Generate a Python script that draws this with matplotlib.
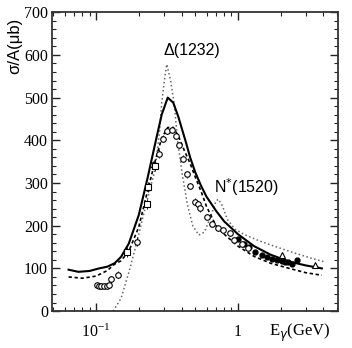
import matplotlib
matplotlib.use('Agg')
import matplotlib.pyplot as plt
from matplotlib.ticker import FixedLocator, FixedFormatter, MultipleLocator, LogLocator, NullFormatter

# curves (E in GeV, sigma/A in microbarn)
solid_E = [0.064, 0.075, 0.09, 0.105, 0.12, 0.135, 0.15, 0.17, 0.2, 0.23, 0.26, 0.29, 0.32,
           0.35, 0.38, 0.4, 0.43, 0.46, 0.5, 0.55, 0.6, 0.7, 0.8, 1.0, 1.3, 1.7, 2.3, 3.0, 3.9]
solid_S = [97, 92, 94, 100, 104, 112, 127, 158, 225, 310, 390, 460, 500,
           488, 455, 430, 395, 360, 325, 293, 268, 235, 210, 180, 152, 132, 116, 107, 100]

dash_E = [0.064, 0.08, 0.1, 0.12, 0.135, 0.15, 0.17, 0.2, 0.23, 0.26, 0.29, 0.32, 0.35,
          0.38, 0.42, 0.46, 0.5, 0.55, 0.6, 0.7, 0.8, 1.0, 1.3, 1.7, 2.3, 3.0, 3.9]
dash_S = [80, 77, 82, 95, 110, 118, 140, 197, 280, 350, 405, 430, 430,
          410, 375, 346, 314, 280, 245, 200, 180, 152, 128, 112, 100, 90, 84]

dot_E = [0.132, 0.15, 0.17, 0.194, 0.225, 0.26, 0.28, 0.29, 0.303, 0.315, 0.335, 0.355,
         0.375, 0.405, 0.44, 0.48, 0.53, 0.58, 0.64, 0.70, 0.73, 0.78, 0.84, 0.95, 1.1,
         1.4, 1.7, 2.3, 3.2, 4.1]
dot_S = [0, 30, 90, 162, 250, 330, 420, 487, 540, 578, 540, 487,
         400, 320, 250, 200, 178, 185, 220, 258, 262, 245, 215, 192, 180,
         165, 155, 140, 125, 115]

# data points
open_E = [0.101, 0.1045, 0.109, 0.114, 0.119, 0.124, 0.128, 0.143, 0.193,
          0.253, 0.279, 0.298, 0.315, 0.341, 0.366, 0.384, 0.412, 0.440, 0.459,
          0.498, 0.525, 0.540, 0.602, 0.66, 0.726, 0.784, 0.878, 0.93, 1.06, 1.18]
open_S = [60, 59, 59, 59, 59, 60, 75, 85, 163,
          342, 369, 404, 422, 424, 410, 389, 357, 320, 293,
          256, 250, 241, 221, 205, 194, 190, 182, 166, 158, 147]
open_err = [5, 4, 4, 4, 4, 5, 8, 8, 10,
            10, 10, 8, 8, 8, 8, 8, 8, 8, 8,
            8, 8, 8, 6, 6, 6, 6, 6, 5, 5, 5]

sq_E = [0.166, 0.228, 0.231, 0.26]
sq_S = [139, 250, 291, 340]
sq_err = [12, 12, 12, 12]

fill_E = [1.0, 1.1, 1.2, 1.32, 1.47, 1.59, 1.73, 1.87, 2.03, 2.14, 2.26, 2.39, 2.59]
fill_S = [168, 158, 150, 139, 131, 127, 123, 119, 118, 115, 115, 110, 119]

tri_E = [2.03, 3.49]
tri_S = [131, 108]

fig = plt.figure(figsize=(3.52, 3.48), dpi=100)
ax = fig.add_axes([0.148, 0.106, 0.812, 0.859])

ax.plot(dot_E, dot_S, ':', color='#666666', lw=1.1)
ax.plot(solid_E, solid_S, '-', color='black', lw=1.5)
ax.plot(dash_E, dash_S, color='black', lw=1.2, linestyle=(0, (2, 1.6)))

ax.errorbar(open_E, open_S, yerr=open_err, fmt='o', ms=4, mfc='white', mec='black',
            mew=0.8, ecolor='black', elinewidth=0.6, capsize=0)
ax.errorbar(sq_E, sq_S, yerr=sq_err, fmt='s', ms=4, mfc='white', mec='black',
            mew=0.8, ecolor='black', elinewidth=0.6, capsize=0)
ax.plot(fill_E, fill_S, 'o', ms=3.5, color='black')
ax.plot(tri_E, tri_S, '^', ms=4.5, mfc='white', mec='black', mew=0.8)

ax.set_xscale('log')
ax.set_xlim(0.049, 5.06)
ax.set_ylim(0, 700)

ax.xaxis.set_major_locator(FixedLocator([0.1, 1]))
ax.xaxis.set_major_formatter(FixedFormatter([r'$\mathregular{10^{-1}}$', '1']))
ax.xaxis.set_minor_locator(LogLocator(base=10, subs=range(2, 10)))
ax.xaxis.set_minor_formatter(NullFormatter())
ax.yaxis.set_major_locator(MultipleLocator(100))
ax.yaxis.set_minor_locator(MultipleLocator(20))

ax.tick_params(which='both', direction='in', top=True, right=True, colors='#222222')
ax.tick_params(which='major', length=6, width=1.0)
ax.tick_params(which='minor', length=3, width=0.8)
ax.tick_params(axis='x', which='major', pad=9)
ax.tick_params(axis='y', which='major', pad=3)
for lab in ax.get_xticklabels() + ax.get_yticklabels():
    lab.set_fontfamily('Liberation Serif')
    lab.set_fontsize(11.5)
    lab.set_color('black')
for sp in ax.spines.values():
    sp.set_linewidth(1.3)
    sp.set_color('#333333')

ax.text(-0.13, 0.886, 'σ/A(μb)', transform=ax.transAxes, rotation=90,
        ha='center', va='center', fontsize=12, family='Liberation Sans')
ax.text(0.867, -0.074, r'E$_\gamma$(GeV)', transform=ax.transAxes,
        ha='center', va='center', fontsize=12, family='Liberation Serif')

ax.text(0.49, 611, 'Δ(1232)', ha='center', va='center',
        fontsize=11.5, family='Liberation Sans', transform=ax.get_yaxis_transform())
ax.text(0.68, 290, r'N$^{*}$(1520)', ha='center', va='center',
        fontsize=11.5, family='Liberation Sans', transform=ax.get_yaxis_transform())

fig.savefig('out.png', dpi=100)
